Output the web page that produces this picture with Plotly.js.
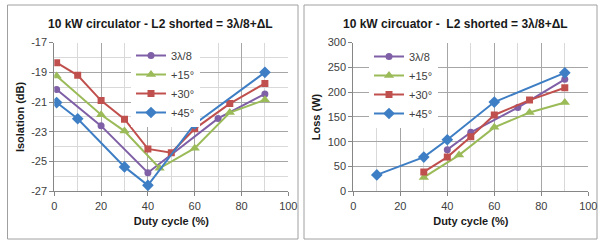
<!DOCTYPE html>
<html>
<head>
<meta charset="utf-8">
<script src="https://cdn.plot.ly/plotly-3.0.1.min.js"></script>
<style>
html,body{margin:0;padding:0;background:#fff;}
#chart{width:600px;height:242px;}
</style>
</head>
<body>
<div id="chart"></div>
<script>
// ---- Data ----
var seriesNames = ['3λ/8', '+15°', '+30°', '+45°'];

// Left chart: Isolation (dB) vs Duty cycle (%)
var isoX_3l8 = [1, 20, 40, 70, 90];
var isoY_3l8 = [-20.15, -22.6, -25.75, -22.1, -20.45];
var isoX_15 = [1, 20, 30, 45, 60, 75, 90];
var isoY_15 = [-19.25, -21.85, -22.95, -25.45, -24.1, -21.7, -20.85];
var isoX_30 = [1, 10, 20, 30, 40, 50, 60, 75, 90];
var isoY_30 = [-18.35, -19.2, -20.9, -22.15, -24.15, -24.4, -22.8, -21.1, -19.75];
var isoX_45 = [1, 10, 30, 40, 60, 90];
var isoY_45 = [-21.03, -22.12, -25.36, -26.6, -22.47, -19.0];

// Right chart: Loss (W) vs Duty cycle (%)
var lossX_3l8 = [40, 50, 70, 90];
var lossY_3l8 = [84, 119, 169, 226];
var lossX_15 = [30, 45, 60, 75, 90];
var lossY_15 = [28, 73, 129, 159, 179];
var lossX_30 = [30, 40, 50, 60, 75, 90];
var lossY_30 = [39, 69, 110, 154, 184, 209];
var lossX_45 = [10, 30, 40, 60, 90];
var lossY_45 = [33, 69, 104, 180, 239];

// Tick labels
var isoTickVals = [-27, -25, -23, -21, -19, -17];
var isoTickText = ['-27', '-25', '-23', '-21', '-19', '-17'];

var leftTitle = '10 kW circulator - L2 shorted = 3λ/8+ΔL';
var rightTitle = '10 kW circuator -  L2 shorted = 3λ/8+ΔL';
var xTitle = 'Duty cycle (%)';
var yTitleLeft = 'Isolation (dB)';
var yTitleRight = 'Loss (W)';

// ---- Styles ----
var colors = ['#7F5FA6', '#9BBB59', '#C0504D', '#3E7EC4'];
var symbols = ['circle', 'triangle-up', 'square', 'diamond'];
var msizes = [7, 9, 7, 9];
var FONT = 'Liberation Sans, Arial, sans-serif';

function mk(x, y, i, xa, ya, leg) {
  return {
    x: x, y: y, type: 'scatter', mode: 'lines+markers',
    name: seriesNames[i], xaxis: xa, yaxis: ya, legend: leg,
    line: {color: colors[i], width: 2},
    marker: {color: colors[i], symbol: symbols[i], size: msizes[i]}
  };
}

var traces = [
  mk(isoX_3l8, isoY_3l8, 0, 'x', 'y', 'legend'),
  mk(isoX_15, isoY_15, 1, 'x', 'y', 'legend'),
  mk(isoX_30, isoY_30, 2, 'x', 'y', 'legend'),
  mk(isoX_45, isoY_45, 3, 'x', 'y', 'legend'),
  mk(lossX_3l8, lossY_3l8, 0, 'x2', 'y2', 'legend2'),
  mk(lossX_15, lossY_15, 1, 'x2', 'y2', 'legend2'),
  mk(lossX_30, lossY_30, 2, 'x2', 'y2', 'legend2'),
  mk(lossX_45, lossY_45, 3, 'x2', 'y2', 'legend2')
];

var W = 600, H = 242;
function px(v){ return v / W; }
function py(v){ return 1 - v / H; }

var tickFont = {family: FONT, size: 11, color: '#404040'};
var axTitleFont = {family: FONT, size: 11, color: '#1a1a1a', weight: 'bold'};
var majorGrid = '#a6a6a6', minorGrid = '#d9d9d9', axisLine = '#868686';

function xax(domain, anchor) {
  return {
    domain: domain, anchor: anchor, range: [0, 100], dtick: 20, tick0: 0,
    showgrid: true, gridcolor: majorGrid, gridwidth: 1,
    minor: {dtick: 10, showgrid: true, gridcolor: minorGrid, gridwidth: 1},
    showline: true, linecolor: axisLine, linewidth: 1,
    ticks: 'outside', ticklen: 4, tickcolor: axisLine,
    tickfont: tickFont, zeroline: false, fixedrange: true,
    title: {text: xTitle, font: axTitleFont, standoff: 6}
  };
}
function yax(domain, anchor, range, title) {
  return {
    domain: domain, anchor: anchor, range: range,
    showgrid: true, gridcolor: majorGrid, gridwidth: 1,
    showline: true, linecolor: axisLine, linewidth: 1,
    ticks: 'outside', ticklen: 4, tickcolor: axisLine,
    tickfont: tickFont, zeroline: false, fixedrange: true,
    title: {text: title, font: axTitleFont, standoff: 4}
  };
}

var yDom = [py(191.3), py(42.6)];

var yLeft = yax(yDom, 'x', [-27, -17], yTitleLeft);
yLeft.tickmode = 'array';
yLeft.tickvals = isoTickVals;
yLeft.ticktext = isoTickText;
yLeft.minor = {dtick: 1, tick0: -17, showgrid: true, gridcolor: minorGrid, gridwidth: 1};

var yRight = yax(yDom, 'x2', [0, 300], yTitleRight);
yRight.dtick = 50; yRight.tick0 = 0;

var legFont = {family: FONT, size: 11, color: '#404040'};

var layout = {
  width: W, height: H,
  margin: {l: 0, r: 0, t: 0, b: 0},
  paper_bgcolor: '#ffffff', plot_bgcolor: '#ffffff',
  font: {family: FONT, size: 11, color: '#262626'},
  showlegend: true,
  xaxis: xax([px(54.3), px(288.3)], 'y'),
  yaxis: yLeft,
  xaxis2: xax([px(353.3), px(588.3)], 'y2'),
  yaxis2: yRight,
  legend: {
    x: px(131), y: py(41), xanchor: 'left', yanchor: 'top',
    bgcolor: '#ffffff', borderwidth: 0, font: legFont,
    tracegroupgap: 0, itemclick: false, itemdoubleclick: false
  },
  legend2: {
    x: px(369), y: py(42), xanchor: 'left', yanchor: 'top',
    bgcolor: '#ffffff', borderwidth: 0, font: legFont,
    tracegroupgap: 0, itemclick: false, itemdoubleclick: false
  },
  annotations: [
    {text: leftTitle, xref: 'paper', yref: 'paper', x: px(160), y: py(24),
     xanchor: 'center', yanchor: 'middle', showarrow: false,
     font: {family: FONT, size: 12, color: '#1a1a1a', weight: 'bold'}},
    {text: rightTitle, xref: 'paper', yref: 'paper', x: px(455), y: py(24),
     xanchor: 'center', yanchor: 'middle', showarrow: false,
     font: {family: FONT, size: 12, color: '#1a1a1a', weight: 'bold'}}
  ],
  shapes: [
    {type: 'rect', xref: 'paper', yref: 'paper', x0: px(7.5), x1: px(298), y0: py(239), y1: py(5),
     line: {color: '#a0a0a0', width: 1}, fillcolor: 'rgba(0,0,0,0)', layer: 'below'},
    {type: 'rect', xref: 'paper', yref: 'paper', x0: px(304), x1: px(597), y0: py(239), y1: py(5),
     line: {color: '#a0a0a0', width: 1}, fillcolor: 'rgba(0,0,0,0)', layer: 'below'}
  ]
};

Plotly.newPlot('chart', traces, layout, {staticPlot: true, displayModeBar: false});
</script>
</body>
</html>
